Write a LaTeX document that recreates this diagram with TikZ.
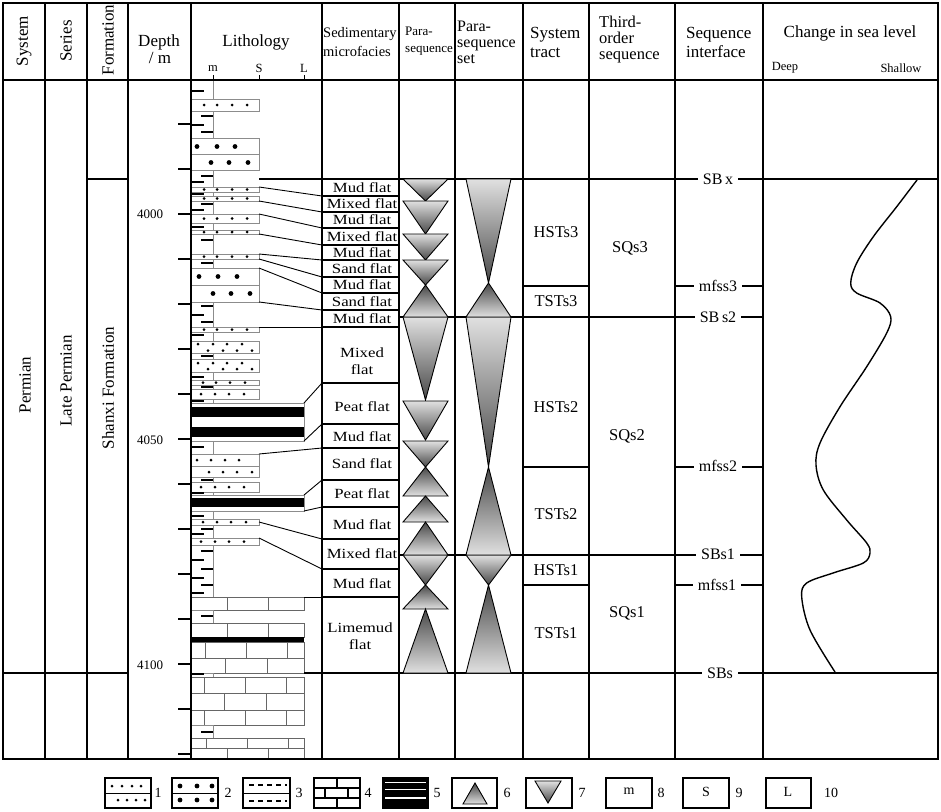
\documentclass[tikz,border=0pt]{standalone}
\usepackage{fontspec}
\setmainfont{Liberation Serif}
\newfontfamily\sedfont{Liberation Serif}[FakeStretch=1.2]
\newcommand\triDn[4]{\draw[tri,top color=black!12,bottom color=black!72] (#1,#3) -- (#2,#3) -- ({(#1+#2)/2},#4) -- cycle;}
\newcommand\triUp[4]{\draw[tri,top color=black!72,bottom color=black!12] ({(#1+#2)/2},#3) -- (#2,#4) -- (#1,#4) -- cycle;}
\newcommand\limerow[3]{\draw[lime] (191,#1) rectangle (304,#2); \foreach \vx in {#3} {\draw[lime] (\vx,#1) -- (\vx,#2);}}
\newcommand\siltrow[2]{\foreach \dx in {#2} {\fill (\dx,#1) circle (1.5pt);}}
\newcommand\sandrow[2]{\foreach \dx in {#2} {\fill (\dx,#1) circle (2.4pt);}}
\begin{document}
\begin{tikzpicture}[x=1pt,y=-1pt,
  every node/.style={inner sep=0pt},
  tline/.style={line width=1.3pt},
  conn/.style={line width=0.9pt},
  litho/.style={draw=black!45,line width=0.8pt,fill=white},
  lime/.style={draw=black!60,line width=0.9pt},
  mudmark/.style={line width=2pt},
  hd/.style={font=\fontsize{17}{19}\selectfont},
  sedtxt/.style={font=\sedfont\fontsize{14}{17}\selectfont, align=center},
  iface/.style={font=\fontsize{16}{18}\selectfont, fill=white, inner xsep=5pt, inner ysep=1pt},
  smalltxt/.style={font=\fontsize{12.5}{14}\selectfont},
  tri/.style={draw,line width=0.9pt},
  legbox/.style={draw,line width=1.6pt,fill=white},
  legnum/.style={font=\fontsize{14}{16}\selectfont}
]
\useasboundingbox (0,0) rectangle (941,811);
\fill[white] (0,0) rectangle (941,811);

% ---------------- lithology ----------------
\draw[black!45,line width=0.8pt] (213,80) -- (213,597);
% siltstone boxes
\foreach \t/\b in {99/111,187/192,196/201,214/223,230/234,254/259,327/332,341/353,359/372,380/385,389/399,454/466,466/477,482/492,519/525,538/545}
  {\draw[litho] (191,\t) rectangle (259,\b);}
\siltrow{105}{204,217,232,247}
\siltrow{189.5}{204,217,232,247}
\siltrow{198.5}{204,217,232,247}
\siltrow{218.5}{204,217,232,247}
\siltrow{232}{204,217,232,247}
\siltrow{256.5}{204,217,232,247}
\siltrow{329.5}{204,217,232,247}
\siltrow{344}{198,213,227,242}
\siltrow{350.5}{208,223,237,252}
\siltrow{363}{198,213,227,242}
\siltrow{369}{208,223,237,252}
\siltrow{382.5}{203,216,230,245}
\siltrow{394}{201,215,229,244}
\siltrow{460}{197,211,225,239}
\siltrow{472}{209,223,237,252}
\siltrow{487}{201,215,229,244}
\siltrow{522}{203,217,231,246}
\siltrow{541.5}{201,215,229,244}
% sandstone boxes
\foreach \t/\b in {138/154,154/170,268/285,285/302}
  {\draw[litho] (191,\t) rectangle (259,\b);}
\sandrow{146.5}{197,217,235}
\sandrow{162.5}{211,229,248}
\sandrow{276.5}{199,218,237}
\sandrow{293.5}{213,231,250}
% coal
\draw[litho] (191,403) rectangle (304,441);
\fill (191,407) rectangle (304,417);
\fill (191,427) rectangle (304,437);
\draw[litho] (191,495) rectangle (304,511);
\fill (191,498) rectangle (304,507);
% limestone
\limerow{597}{610}{227,268}
\draw[litho] (191,610) rectangle (213,623);
\limerow{623}{637}{227,268}
\fill (191,637) rectangle (304,642);
\limerow{642}{658}{205,246,287}
\limerow{658}{673}{225,267}
\draw[litho] (191,673) rectangle (213,677);
\limerow{677}{693}{204,245,286}
\limerow{693}{710}{224,266}
\limerow{710}{725}{204,245,286}
\draw[litho] (191,725) rectangle (213,738);
\limerow{738}{748}{206,247,288}
\limerow{748}{759}{227,268}
% mudstone marks
\foreach \y in {91,125,182,194,210,227,315,335,377,401,447,493,516,534,560,578,593,674}
  {\draw[mudmark] (192,\y) -- (204,\y);}
\foreach \y in {116,132,176,204,240,263,306,322,356,387,480,529,551,569,585,616,732}
  {\draw[mudmark] (201,\y) -- (213,\y);}

% ---------------- frame ----------------
\draw[tline] (3,3) rectangle (938,759);
\draw[tline] (3,80) -- (938,80);
\foreach \x in {45,87,128,322,399,455,523,589,675,763} {\draw[tline] (\x,3) -- (\x,759);}
\draw[tline] (191,3) -- (191,80);
\draw[line width=2.2pt] (191,80) -- (191,759);
\foreach \k in {0,...,14} {\draw[line width=2.6pt] (178,{124+45*\k}) -- (191,{124+45*\k});}
\draw[conn] (213,75) -- (213,80);
\draw[conn] (259,75) -- (259,80);
\draw[conn] (304,75) -- (304,80);

% long horizontal lines
\draw[tline] (87,179) -- (128,179);
\draw[tline] (259,179) -- (938,179);
\draw[tline] (3,673) -- (128,673);
\draw[tline] (304,673) -- (938,673);
\draw[tline] (399,317) -- (763,317);
\draw[tline] (399,555) -- (763,555);
\foreach \y in {286,467,585} {\draw[tline] (523,\y) -- (589,\y); \draw[tline] (675,\y) -- (763,\y);}

% microfacies rows
\foreach \y in {196,212,228,245,260,277,293,310,327,383,424,448,480,507,539,569,597}
  {\draw[tline] (322,\y) -- (399,\y);}
\draw[conn] (259,187) -- (322,196);
\draw[conn] (259,201) -- (322,212);
\draw[conn] (259,214) -- (322,228);
\draw[conn] (259,234) -- (322,245);
\draw[conn] (259,254) -- (322,260);
\draw[conn] (259,259) -- (322,277);
\draw[conn] (259,268) -- (322,293);
\draw[conn] (259,302) -- (322,310);
\draw[conn] (259,327) -- (322,327);
\draw[conn] (304,403) -- (322,383);
\draw[conn] (304,441) -- (322,424);
\draw[conn] (259,454) -- (322,448);
\draw[conn] (304,495) -- (322,480);
\draw[conn] (304,511) -- (322,507);
\draw[conn] (259,522) -- (322,539);
\draw[conn] (259,538) -- (322,569);
\draw[conn] (304,597) -- (322,597);

% ---------------- triangles ----------------
\foreach \t/\b in {179/201,201/234,234/260,260/285,317/400,401/440,441/467,555/585} {\triDn{403}{448}{\t}{\b}}
\foreach \t/\b in {285/317,467/496,496/522,522/555,585/609,609/673} {\triUp{403}{448}{\t}{\b}}
\foreach \t/\b in {179/283,317/467,555/585} {\triDn{466}{511}{\t}{\b}}
\foreach \t/\b in {283/317,467/555,585/673} {\triUp{466}{511}{\t}{\b}}

% ---------------- sea level curve ----------------
\draw[line width=1.4pt] plot[smooth, tension=0.55] coordinates {(917,180) (896.7,206.7) (873.3,236.7) (856.7,263) (850.7,283) (856.7,293) (880,303) (890.7,316.7) (886.7,333) (866.7,366.7) (840,406.7) (820,443) (816,465) (823.3,490) (846.7,520) (866.7,543) (870,553) (863.3,563) (833,573) (806.7,583) (801.7,597) (810,630) (835,672)};

% ---------------- header text ----------------
\node[hd,rotate=90] (hSys) at (24,41) {System};
\node[hd,rotate=90] (hSer) at (66,41) {Series};
\node[hd,rotate=90] (hFor) at (108,40) {Formation};
\node[hd] (hDep) at (159,42) {Depth};
\node[hd] (hDm) at (160,58) {/ m};
\node[hd] (hLit) at (256,42) {Lithology};
\node[smalltxt] (hm) at (213,69) {m};
\node[smalltxt] (hS) at (259,68) {S};
\node[smalltxt] (hL) at (304,68) {L};
\node[font=\fontsize{14.5}{19}\selectfont,align=left,anchor=west] (hSed) at (323,42.5) {Sedimentary\\microfacies};
\node[font=\fontsize{13}{17}\selectfont,align=left,anchor=west] (hPara) at (405,41.5) {Para-\\sequence};
\node[font=\fontsize{16}{16}\selectfont,align=left,anchor=west] (hSet) at (457,42) {Para-\\sequence\\set};
\node[hd,align=left,anchor=west] (hST) at (530,42.5) {System\\tract};
\node[font=\fontsize{16.5}{16}\selectfont,align=left,anchor=west] (hTO) at (599,40) {Third-\\order\\sequence};
\node[hd,align=left,anchor=west] (hSI) at (686,42) {Sequence\\interface};
\node[hd] (hCh) at (850,33) {Change in sea level};
\node[smalltxt] (hDeep) at (785,68) {Deep};
\node[smalltxt] (hShal) at (901,68) {Shallow};

% ---------------- body text ----------------
\node[hd,rotate=90] (bSys) at (25,385) {Permian};
\node[hd,rotate=90] (bSer) at (66,381) {Late Permian};
\node[hd,rotate=90] (bFor) at (108,388) {Shanxi Formation};
\node[font=\fontsize{13}{14}\selectfont] (d4000) at (150,214) {4000};
\node[font=\fontsize{13}{14}\selectfont] (d4050) at (150,440) {4050};
\node[font=\fontsize{13}{14}\selectfont] (d4100) at (150,665) {4100};

\node[sedtxt] (f1) at (362,187.5) {Mud flat};
\node[sedtxt] (f2) at (362,204) {Mixed flat};
\node[sedtxt] (f3) at (362,220) {Mud flat};
\node[sedtxt] (f4) at (362,236.5) {Mixed flat};
\node[sedtxt] (f5) at (362,252.5) {Mud flat};
\node[sedtxt] (f6) at (362,268.5) {Sand flat};
\node[sedtxt] (f7) at (362,285) {Mud flat};
\node[sedtxt] (f8) at (362,301.5) {Sand flat};
\node[sedtxt] (f9) at (362,318.5) {Mud flat};
\node[sedtxt] (f10) at (362,361) {Mixed\\flat};
\node[sedtxt] (f11) at (362,407) {Peat flat};
\node[sedtxt] (f12) at (362,437) {Mud flat};
\node[sedtxt] (f13) at (362,464) {Sand flat};
\node[sedtxt] (f14) at (362,494) {Peat flat};
\node[sedtxt] (f15) at (362,525) {Mud flat};
\node[sedtxt] (f16) at (362,554) {Mixed flat};
\node[sedtxt] (f17) at (362,584) {Mud flat};
\node[sedtxt] (f18) at (360,636) {Limemud\\flat};

\node[font=\fontsize{16.5}{18}\selectfont] (st1) at (556,232) {HSTs3};
\node[font=\fontsize{16.5}{18}\selectfont] (st2) at (556,301) {TSTs3};
\node[font=\fontsize{16.5}{18}\selectfont] (st3) at (556,407) {HSTs2};
\node[font=\fontsize{16.5}{18}\selectfont] (st4) at (556,514) {TSTs2};
\node[font=\fontsize{16.5}{18}\selectfont] (st5) at (556,570) {HSTs1};
\node[font=\fontsize{16.5}{18}\selectfont] (st6) at (556,633) {TSTs1};

\node[font=\fontsize{16.5}{18}\selectfont] (sq3) at (630,248) {SQs3};
\node[font=\fontsize{16.5}{18}\selectfont] (sq2) at (627,436) {SQs2};
\node[font=\fontsize{16.5}{18}\selectfont] (sq1) at (627,613) {SQs1};

\node[iface] (iSBx) at (718,179) {SB\,x};
\node[iface] (imf3) at (718,286) {mfss3};
\node[iface] (iSB2) at (718,317) {SB\,s2};
\node[iface] (imf2) at (718,466) {mfss2};
\node[iface] (iSB1) at (718,554) {SBs1};
\node[iface] (imf1) at (717,585) {mfss1};
\node[iface] (iSBs) at (720,673) {SBs};

% ---------------- legend ----------------
\draw[legbox] (105,778) rectangle (151,808);
\draw[line width=1pt] (105,793) -- (151,793);
\siltrow{786}{112,122,132,141}
\siltrow{800}{118,127,136,145}
\node[legnum] (n1) at (158,793) {1};
\draw[legbox] (172,778) rectangle (218,808);
\draw[line width=1pt] (172,793) -- (218,793);
\sandrow{786}{180,197,212}
\sandrow{800}{180,197,212}
\node[legnum] (n2) at (228,793) {2};
\draw[legbox] (243,778) rectangle (290,808);
\draw[line width=1pt] (243,793) -- (290,793);
\draw[line width=1.2pt,dash pattern=on 5pt off 4pt] (249,785) -- (287,785);
\draw[line width=1.2pt,dash pattern=on 5pt off 4pt] (249,801) -- (287,801);
\node[legnum] (n3) at (299,793) {3};
\draw[legbox] (314,778) rectangle (360,808);
\draw[line width=1.2pt] (314,788) -- (360,788);
\draw[line width=1.2pt] (314,798) -- (360,798);
\draw[line width=1.2pt] (337,778) -- (337,788);
\draw[line width=1.2pt] (325,788) -- (325,798);
\draw[line width=1.2pt] (348,788) -- (348,798);
\draw[line width=1.2pt] (337,798) -- (337,808);
\node[legnum] (n4) at (368,793) {4};
\draw[legbox,fill=black] (383,778) rectangle (428,808);
\draw[white,line width=1pt] (385,782.5) -- (426,782.5);
\draw[white,line width=1.6pt] (385,789.5) -- (426,789.5);
\draw[white,line width=1.6pt] (385,798) -- (426,798);
\node[legnum] (n5) at (437,793) {5};
\draw[legbox] (452,778) rectangle (497,808);
\triUp{463}{487}{783}{804}
\node[legnum] (n6) at (507,793) {6};
\draw[legbox] (526,778) rectangle (572,808);
\triDn{535}{561}{781}{803}
\node[legnum] (n7) at (582,793) {7};
\draw[legbox] (606,778) rectangle (652,808);
\node[legnum] (l8) at (629,791) {m};
\node[legnum] (n8) at (661,793) {8};
\draw[legbox] (683,778) rectangle (729,808);
\node[legnum] (l9) at (706,792) {S};
\node[legnum] (n9) at (739,793) {9};
\draw[legbox] (766,778) rectangle (811,808);
\node[legnum] (l10) at (788,792) {L};
\node[legnum] (n10) at (831,793) {10};
\end{tikzpicture}
\end{document}
